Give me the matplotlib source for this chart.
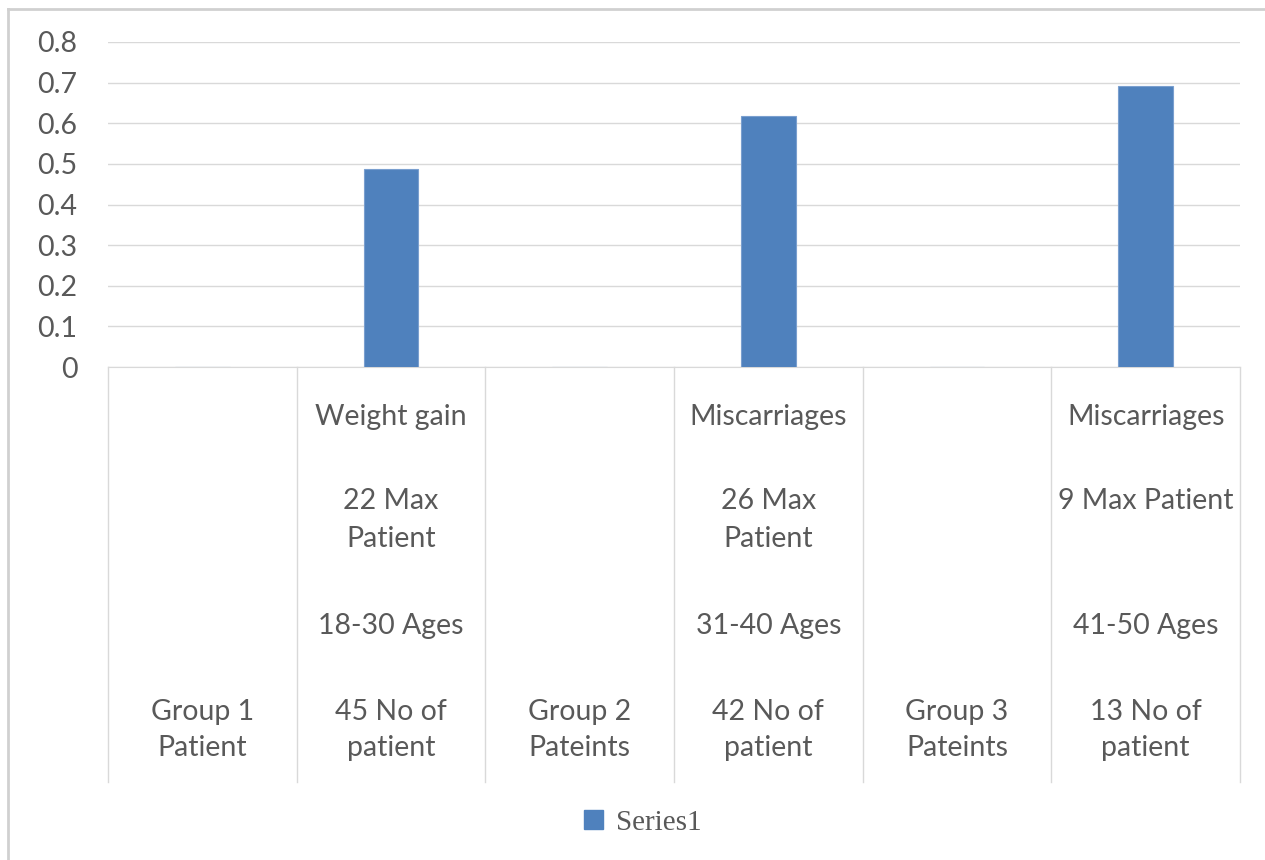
import matplotlib.pyplot as plt
from matplotlib.patches import Rectangle
from matplotlib.lines import Line2D
from matplotlib.transforms import blended_transform_factory

# === Data ===
categories = ["Group 1\nPatient", "45 No of\npatient", "Group 2\nPateints",
              "42 No of\npatient", "Group 3\nPateints", "13 No of\npatient"]
values = [0, 0.487, 0, 0.618, 0, 0.692]
effects = ["Weight gain", "Miscarriages", "Miscarriages"]
max_patients = ["22 Max\nPatient", "26 Max\nPatient", "9 Max Patient"]
age_ranges = ["18-30 Ages", "31-40 Ages", "41-50 Ages"]
yticks = [0, 0.1, 0.2, 0.3, 0.4, 0.5, 0.6, 0.7, 0.8]

W, H = 1265, 860
text_col = "#595959"
grid_col = "#D9D9D9"
bar_col = "#4F81BD"
font = "Lato"
fs = 20.5

fig = plt.figure(figsize=(W / 100, H / 100), dpi=100)

# chart area border (left and top only are visible)
fig.add_artist(Line2D([8 / W, 8 / W], [0, 1 - 9 / H], color="#D0D0D0", lw=2))
fig.add_artist(Line2D([8 / W, 1], [1 - 9 / H, 1 - 9 / H], color="#D0D0D0", lw=2))

# plot area: y=0 at 367px, y=0.8 at 42px
x0, x1, y0, y1 = 108, 1240, 367, 42
ax = fig.add_axes([x0 / W, 1 - y0 / H, (x1 - x0) / W, (y0 - y1) / H])

n = len(categories)
pos = list(range(n))
ax.bar(pos, values, width=0.29, color=bar_col, edgecolor="#7A9FCF", linewidth=0.8, zorder=3)

ax.set_xlim(-0.5, n - 0.5)
ax.set_ylim(0, 0.8)
ax.set_yticks(yticks)
ax.set_yticklabels(["0" if v == 0 else f"{v:.1f}" for v in yticks],
                   fontsize=fs, color=text_col, family=font)
ax.tick_params(axis="y", length=0, pad=22)
ax.tick_params(axis="x", length=0, labelbottom=False)
ax.grid(axis="y", color=grid_col, lw=1, zorder=0)
for s in ["top", "right", "left"]:
    ax.spines[s].set_visible(False)
ax.spines["bottom"].set_color(grid_col)

# multi-level category axis
tr = blended_transform_factory(ax.transData, ax.transAxes)
def ay(py):
    return (y0 - py) / (y0 - y1)

line_bottom = ay(782)
for i in range(n + 1):
    ax.plot([i - 0.5, i - 0.5], [0, line_bottom], transform=tr, color=grid_col,
            lw=1, clip_on=False)

for i, lab in enumerate(categories):
    ax.text(i, ay(730), lab, transform=tr, ha="center", va="center", fontsize=fs,
            color=text_col, family=font, linespacing=1.5)

for k, i in enumerate([1, 3, 5]):
    ax.text(i, ay(417), effects[k], transform=tr, ha="center", va="center",
            fontsize=fs, color=text_col, family=font)
    ax.text(i, ay(520) if "\n" in max_patients[k] else ay(501), max_patients[k],
            transform=tr, ha="center", va="center", fontsize=fs, color=text_col,
            family=font, linespacing=1.55)
    ax.text(i, ay(626), age_ranges[k], transform=tr, ha="center", va="center",
            fontsize=fs, color=text_col, family=font)

# legend
handle = Rectangle((0, 0), 1, 1, color=bar_col)
fig.legend([handle], ["Series1"], loc="center", bbox_to_anchor=(643 / W, 1 - 823 / H),
           frameon=False, handlelength=0.65, handleheight=0.65, handletextpad=0.45,
           prop={"family": "Liberation Serif", "size": 21}, labelcolor=text_col)

fig.savefig("out.png", dpi=100)
